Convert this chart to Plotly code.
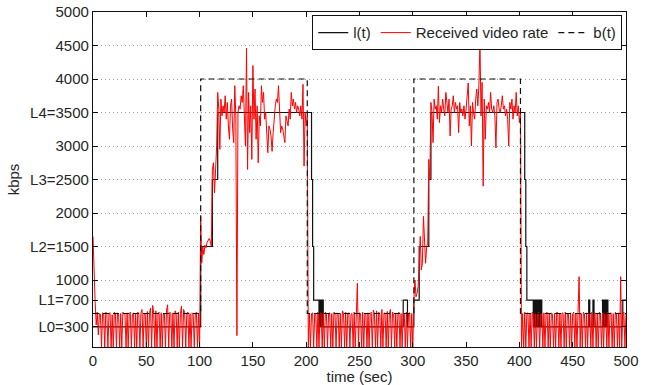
import numpy as np
import plotly.graph_objects as go

# ---------------- data ----------------
# quality level l(t): step change points (time sec, kbps)
l_times = [0, 101, 112, 117, 205, 206, 207, 212, 213, 214, 215, 216, 291, 295,
           301, 306, 315, 317, 405, 406, 407, 413, 414, 415, 416, 417, 418, 419,
           420, 421, 465, 466, 469, 470, 478, 479, 480, 481, 482, 483, 497, 500]
l_values = [300, 1500, 2500, 3500, 2500, 1500, 700, 300, 700, 300, 700, 300, 700, 300,
            700, 1500, 2500, 3500, 2500, 1500, 700, 300, 700, 300, 700, 300, 700, 300,
            700, 300, 700, 300, 700, 300, 700, 300, 700, 300, 700, 300, 700, 700]

# available bandwidth b(t): step change points
b_times = [0, 101, 201, 301, 401, 500]
b_values = [500, 4000, 500, 4000, 500, 500]

# received video rate, one sample per second
rate_a_start = 0
rate_a = [1650, 950, 680, 330, 520, 180, 500, 490, 0, 510,
          500, 0, 520, 490, 0, 500, 510, 0, 480, 0,
          520, 500, 0, 510, 490, 0, 500, 0, 520, 500,
          490, 0, 510, 0, 500, 520, 0, 490, 510, 0,
          500, 0, 520, 500, 0, 510, 560, 0, 500, 490,
          0, 530, 0, 510, 580, 0, 620, 500, 0, 540,
          0, 500, 520, 0, 510, 0, 500, 490, 0, 550,
          630, 0, 520, 500, 0, 510, 0, 540, 500, 0,
          520, 0, 500, 610, 0, 560, 510, 0, 500, 520,
          0, 500, 0, 510, 490, 0, 500, 520, 0, 500,
          0]
rate_b_start = 101
rate_b = [1950, 1250, 1500, 1380, 1520, 1480, 1560, 1600, 1620, 1580,
          1500, 2650, 2750, 2300, 2700, 3000, 3800, 3550, 2950, 3700,
          3450, 3600, 3500, 3750, 3400, 3650, 3300, 3100, 3600, 3700,
          3250, 3050, 3900, 3450, 170, 3500, 3600, 3550, 3750, 3650,
          3900, 3500, 3000, 4460, 2650, 3800, 3200, 3600, 2800, 4200,
          3400, 3850, 3100, 3600, 2750, 3450, 3300, 3900, 3650, 3800,
          3400, 3500, 3100, 2900, 3300, 3250, 3150, 2920, 3200, 3450,
          3600, 3700, 3650, 3900, 3500, 3200, 3300, 3250, 3150, 3050,
          3450, 3350, 3300, 3550, 3400, 3800, 3600, 3700, 3550, 3650,
          3500, 3600, 3550, 3450, 3600, 3400, 3920, 2700, 3500, 3300,
          3450, 0, 500, 0, 500]
rate_c_start = 206
rate_c = [510, 0, 500, 490, 0, 520, 0, 500, 510, 0,
          500, 0, 520, 490, 0, 500, 510, 0, 500, 0,
          520, 500, 0, 510, 490, 0, 500, 0, 540, 500,
          0, 520, 0, 500, 510, 0, 490, 500, 0, 520,
          0, 500, 950, 0, 510, 500, 0, 520, 0, 500,
          490, 0, 510, 0, 500, 520, 0, 550, 500, 0,
          540, 0, 520, 500, 0, 560, 0, 510, 500, 0,
          530, 0, 500, 560, 0, 520, 500, 0, 510, 0,
          500, 520, 0, 500, 0, 510, 500, 0, 520, 0,
          500, 510, 0, 500, 0]
rate_d_start = 301
rate_d = [700, 1000, 750, 800, 900, 1350, 1650, 1150, 1250, 1950,
          1500, 1250, 1500, 1550, 2800, 2500, 3650, 3500, 3050, 3700,
          3550, 3600, 3400, 3890, 3350, 3600, 3500, 3700, 3550, 3450,
          3800, 3600, 3500, 3700, 3150, 3550, 3600, 3750, 3500, 3650,
          3550, 3600, 3200, 3650, 3500, 3550, 3450, 3600, 3400, 3550,
          3700, 3940, 3300, 3600, 3000, 3650, 3500, 3400, 3700, 3850,
          3600, 3900, 4550, 3450, 3950, 2400, 3700, 3100, 3600, 3550,
          3650, 3500, 3800, 3550, 3500, 3600, 3450, 2970, 3650, 3700,
          3550, 3500, 3600, 3750, 3550, 3600, 3450, 3550, 3400, 3000,
          3650, 3550, 3700, 3400, 3600, 3500, 3800, 3450, 3600, 3350,
          3500, 0, 500, 0, 520]
rate_e_start = 406
rate_e = [0, 500, 510, 0, 500, 0, 520, 490, 0, 510,
          0, 500, 520, 0, 500, 490, 0, 510, 0, 500,
          520, 0, 500, 0, 510, 490, 0, 500, 0, 520,
          510, 0, 500, 0, 510, 500, 0, 520, 0, 500,
          490, 0, 510, 0, 500, 520, 0, 500, 0, 510,
          1050, 0, 500, 0, 520, 500, 0, 510, 0, 500,
          490, 0, 520, 0, 500, 510, 0, 500, 0, 520,
          500, 0, 510, 0, 500, 490, 0, 520, 0, 500,
          510, 0, 500, 0, 520, 500, 0, 510, 0, 1050,
          0, 500, 520, 0, 500]

x_ticks = [0, 50, 100, 150, 200, 250, 300, 350, 400, 450, 500]
y_ticks = [300, 700, 1000, 1500, 2000, 2500, 3000, 3500, 4000, 4500, 5000]
y_labels = ["L0=300", "L1=700", "1000", "L2=1500", "2000", "L3=2500", "3000",
            "L4=3500", "4000", "4500", "5000"]

# ---------------- build ----------------
rate_t, rate_v = [], []
for start, seg in [(rate_a_start, rate_a), (rate_b_start, rate_b), (rate_c_start, rate_c),
                   (rate_d_start, rate_d), (rate_e_start, rate_e)]:
    rate_t.extend(range(start, start + len(seg)))
    rate_v.extend(seg)

FONT = "Liberation Sans, Arial, Helvetica, sans-serif"
TXT = "#262626"

fig = go.Figure()
fig.add_trace(go.Scatter(x=l_times, y=l_values, mode="lines", name="l(t)",
                         line=dict(color="#111111", width=1.2, shape="hv")))
fig.add_trace(go.Scatter(x=rate_t, y=rate_v, mode="lines", name="Received video rate",
                         line=dict(color="#ff0000", width=1)))
fig.add_trace(go.Scatter(x=b_times, y=b_values, mode="lines", name="b(t)",
                         line=dict(color="#111111", width=1.2, shape="hv", dash="6px,4px")))

fig.update_layout(
    width=646, height=385,
    margin=dict(l=93, r=20, t=12, b=38, autoexpand=False),
    paper_bgcolor="white", plot_bgcolor="white",
    font=dict(family=FONT, size=15, color=TXT),
    showlegend=True,
    legend=dict(x=0.993, y=0.99, xanchor="right", yanchor="top", orientation="h",
                bgcolor="white", bordercolor="#111111", borderwidth=1,
                font=dict(family=FONT, size=15, color=TXT),
                itemwidth=30, tracegroupgap=0),
)
fig.update_xaxes(range=[0, 500], tickvals=x_ticks, ticks="inside", ticklen=5,
                 tickcolor="#111111", showline=True, linecolor="#111111", linewidth=1.2,
                 mirror="ticks", showgrid=False, zeroline=False,
                 title=dict(text="time (sec)", standoff=1, font=dict(size=15)),
                 tickfont=dict(size=15), automargin=False)
fig.update_yaxes(range=[0, 5000], tickvals=y_ticks, ticktext=y_labels, ticks="inside",
                 ticklen=5, tickcolor="#111111", showline=True, linecolor="#111111",
                 linewidth=1.2, mirror="ticks", showgrid=True, gridcolor="#9a9a9a",
                 griddash="1px,3px", gridwidth=1, zeroline=False,
                 title=dict(text="kbps", standoff=6, font=dict(size=15)),
                 tickfont=dict(size=15), automargin=False)

fig.write_html("out.html")
